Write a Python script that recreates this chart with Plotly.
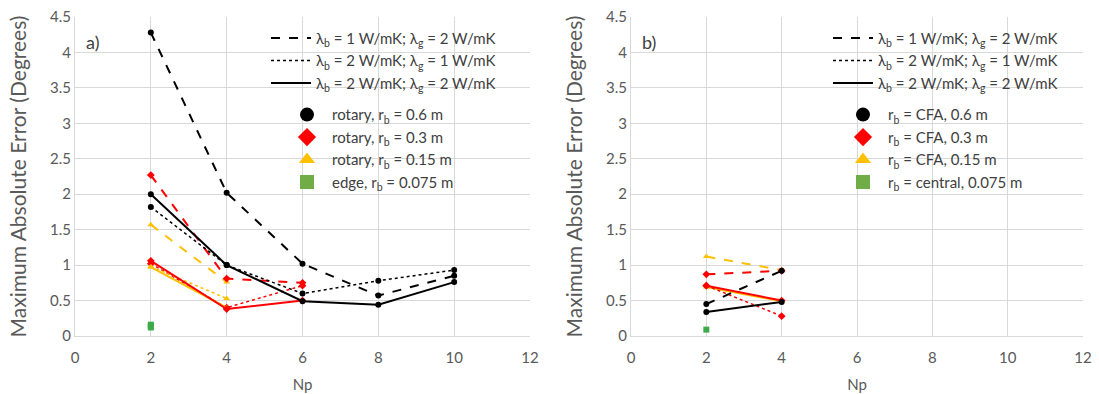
import plotly.graph_objects as go

# ---------------- data ----------------
np_a_long = [2, 4, 6, 8, 10]
a_black_dash = [4.28, 2.02, 1.02, 0.57, 0.85]
a_black_dot = [1.82, 1.00, 0.60, 0.78, 0.93]
a_black_solid = [2.00, 1.00, 0.49, 0.44, 0.76]

np_a_mid = [2, 4, 6]
a_red_dash = [2.27, 0.81, 0.75]
a_red_dot = [1.02, 0.40, 0.71]
a_red_solid = [1.06, 0.38, 0.50]

np_a_short = [2, 4]
a_yel_dash = [1.57, 0.76]
a_yel_dot = [0.98, 0.53]
a_yel_solid = [0.97, 0.40]

np_green = [2, 2, 2]
a_green = [0.12, 0.14, 0.16]

np_b = [2, 4]
b_black_dash = [0.45, 0.92]
b_black_solid = [0.34, 0.48]
b_red_dash = [0.87, 0.92]
b_red_dot = [0.71, 0.28]
b_red_solid = [0.71, 0.50]
b_yel_dash = [1.12, 0.93]
b_yel_solid = [0.69, 0.49]
np_b_green = [2]
b_green = [0.09]

x_ticks = [0, 2, 4, 6, 8, 10, 12]
y_ticks = [0, 0.5, 1, 1.5, 2, 2.5, 3, 3.5, 4, 4.5]
y_ticklabels = ["0", "0.5", "1", "1.5", "2", "2.5", "3", "3.5", "4", "4.5"]

line_labels = [
    "λ<sub>b</sub> = 1 W/mK; λ<sub>g</sub> = 2 W/mK",
    "λ<sub>b</sub> = 2 W/mK; λ<sub>g</sub> = 1 W/mK",
    "λ<sub>b</sub> = 2 W/mK; λ<sub>g</sub> = 2 W/mK",
]
marker_labels_a = [
    "rotary, r<sub>b</sub> = 0.6 m",
    "rotary, r<sub>b</sub> = 0.3 m",
    "rotary, r<sub>b</sub> = 0.15 m",
    "edge, r<sub>b</sub> = 0.075 m",
]
marker_labels_b = [
    "r<sub>b</sub> = CFA, 0.6 m",
    "r<sub>b</sub> = CFA, 0.3 m",
    "r<sub>b</sub> = CFA, 0.15 m",
    "r<sub>b</sub> = central, 0.075 m",
]

BLACK = "#000000"
RED = "#FF0000"
YEL = "#FFC000"
GREEN = "#3DAA4A"
GREEN_LEG = "#70AD47"
FONT = "Lato, Open Sans, sans-serif"
TXT = "#595959"

fig = go.Figure()

def add(x, y, color, dash, symbol, width, xa, ya, size=6):
    fig.add_trace(go.Scatter(
        x=x, y=y, mode="lines+markers",
        line=dict(color=color, dash=dash, width=width),
        marker=dict(color=color, symbol=symbol, size=size),
        showlegend=False, xaxis=xa, yaxis=ya, hoverinfo="x+y"))

# panel a
add(np_a_mid, a_red_dot, RED, "dot", "diamond", 1.5, "x", "y")
add(np_a_short, a_yel_dot, YEL, "dot", "triangle-up", 1.5, "x", "y")
add(np_a_short, a_yel_solid, YEL, "solid", "triangle-up", 2, "x", "y")
add(np_a_short, a_yel_dash, YEL, "dash", "triangle-up", 2, "x", "y")
add(np_a_mid, a_red_solid, RED, "solid", "diamond", 2, "x", "y")
add(np_a_mid, a_red_dash, RED, "dash", "diamond", 2, "x", "y")
add(np_a_long, a_black_dot, BLACK, "dot", "circle", 1.5, "x", "y")
add(np_a_long, a_black_solid, BLACK, "solid", "circle", 2, "x", "y")
add(np_a_long, a_black_dash, BLACK, "dash", "circle", 2, "x", "y")
fig.add_trace(go.Scatter(x=np_green, y=a_green, mode="markers",
                         marker=dict(color=GREEN, symbol="square", size=6),
                         showlegend=False, xaxis="x", yaxis="y"))

# panel b
add(np_b, b_yel_solid, YEL, "solid", "triangle-up", 2, "x2", "y2")
add(np_b, b_yel_dash, YEL, "dash", "triangle-up", 2, "x2", "y2")
add(np_b, b_red_dot, RED, "dot", "diamond", 1.5, "x2", "y2")
add(np_b, b_red_solid, RED, "solid", "diamond", 2, "x2", "y2")
add(np_b, b_red_dash, RED, "dash", "diamond", 2, "x2", "y2")
add(np_b, b_black_solid, BLACK, "solid", "circle", 2, "x2", "y2")
add(np_b, b_black_dash, BLACK, "dash", "circle", 2, "x2", "y2")
fig.add_trace(go.Scatter(x=np_b_green, y=b_green, mode="markers",
                         marker=dict(color=GREEN, symbol="square", size=6),
                         showlegend=False, xaxis="x2", yaxis="y2"))

# legend entries
dashes = ["dash", "dot", "solid"]
widths = [2, 1.5, 2]
mk_sym = ["circle", "diamond", "triangle-up", "square"]
mk_col = [BLACK, RED, YEL, GREEN_LEG]
for leg_l, leg_m, mlabels in [("legend", "legend2", marker_labels_a),
                               ("legend3", "legend4", marker_labels_b)]:
    for lab, d, w in zip(line_labels, dashes, widths):
        fig.add_trace(go.Scatter(x=[None], y=[None], mode="lines", name=lab,
                                 line=dict(color=BLACK, dash=d, width=w),
                                 legend=leg_l))
    for lab, s, c in zip(mlabels, mk_sym, mk_col):
        fig.add_trace(go.Scatter(x=[None], y=[None], mode="markers", name=lab,
                                 marker=dict(color=c, symbol=s, size=14),
                                 legend=leg_m))

axis_common = dict(range=[0, 12], tickvals=x_ticks, showgrid=True,
                   gridcolor="#D9D9D9", gridwidth=1, zeroline=False,
                   showline=True, linecolor="#D9D9D9", linewidth=1,
                   ticks="", ticklabelstandoff=8,
                   tickfont=dict(size=15, color=TXT, family=FONT),
                   title=dict(text="Np", font=dict(size=15, color=TXT, family=FONT), standoff=14),
                   automargin=False)
yaxis_common = dict(range=[0, 4.5], tickvals=y_ticks, ticktext=y_ticklabels,
                    showgrid=True, gridcolor="#D9D9D9", gridwidth=1,
                    zeroline=False, showline=True, linecolor="#D9D9D9",
                    ticks="", tickfont=dict(size=15, color=TXT, family=FONT),
                    title=dict(text="Maximum Absolute Error (Degrees)",
                               font=dict(size=21, color=TXT, family=FONT), standoff=17),
                    automargin=False)

leg_common = dict(bgcolor="rgba(0,0,0,0)", font=dict(size=15, color="#404040", family=FONT),
                  tracegroupgap=0, xanchor="left", yanchor="top", itemwidth=40,
                  itemclick=False)

fig.update_layout(
    width=1099, height=394,
    margin=dict(l=0, r=0, t=17, b=58),
    paper_bgcolor="white", plot_bgcolor="white",
    font=dict(family=FONT, color=TXT),
    xaxis=dict(domain=[75 / 1099, 530 / 1099], anchor="y", **axis_common),
    xaxis2=dict(domain=[631 / 1099, 1083 / 1099], anchor="y2", **axis_common),
    yaxis=dict(anchor="x", **yaxis_common),
    yaxis2=dict(anchor="x2", **yaxis_common),
    legend=dict(x=266 / 1099, y=0.985, **leg_common),
    legend2=dict(x=282 / 1099, y=0.745, **leg_common),
    legend3=dict(x=828 / 1099, y=0.985, **leg_common),
    legend4=dict(x=838 / 1099, y=0.745, **leg_common),
    annotations=[
        dict(text="a)", x=84 / 1099, y=(336 - 42) / 319, xref="paper", yref="paper",
             showarrow=False, xanchor="left", yanchor="middle",
             font=dict(size=18, color="#404040", family=FONT)),
        dict(text="b)", x=640 / 1099, y=(336 - 42) / 319, xref="paper", yref="paper",
             showarrow=False, xanchor="left", yanchor="middle",
             font=dict(size=18, color="#404040", family=FONT)),
    ],
)

fig.write_html("out.html", config={"displayModeBar": False},
               post_script="document.body.style.margin='0';")
